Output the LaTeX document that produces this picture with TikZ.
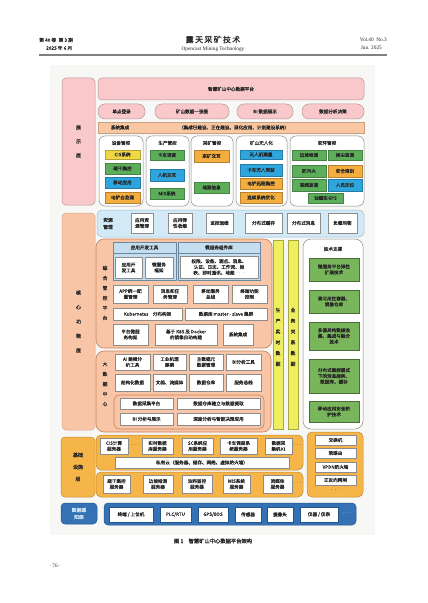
\documentclass[tikz,border=0pt]{standalone}
\usepackage{fontspec}
\setmainfont{Liberation Serif}
\newfontfamily\cjk[FakeBold=0.3]{Noto Sans CJK SC}
\newfontfamily\cjkb[FakeBold=1.2]{Noto Sans CJK SC}
\definecolor{txt}{HTML}{262626}
\definecolor{bgc}{HTML}{F7F7F5}
\definecolor{pinkf}{HTML}{F8C8CA}
\definecolor{pinkd}{HTML}{B89696}
\definecolor{peachbar}{HTML}{F9C8A2}
\definecolor{peachf}{HTML}{F8C5A6}
\definecolor{peachd}{HTML}{C98058}
\definecolor{ltblue}{HTML}{D3E9F6}
\definecolor{ltblued}{HTML}{9BBFD6}
\definecolor{panelb}{HTML}{C4DEF0}
\definecolor{paneld}{HTML}{6A88A0}
\definecolor{gI}{HTML}{5DAE5B}
\definecolor{bI}{HTML}{2FA5DE}
\definecolor{oI}{HTML}{F4AE40}
\definecolor{yI}{HTML}{F0D845}
\definecolor{yel}{HTML}{EEEE60}
\definecolor{tg}{HTML}{79B65B}
\definecolor{infra}{HTML}{F5B548}
\definecolor{infrad}{HTML}{C08A30}
\definecolor{sense}{HTML}{3572B5}
\definecolor{sensed}{HTML}{24548A}
\definecolor{grayd}{HTML}{8C8C8C}
\newcommand\mybox[7]{\node[#1, minimum width={((#5)-(#3))*1bp}, minimum height={((#6)-(#4))*1bp}] (#2) at ({((#3)+(#5))/2},{((#4)+(#6))/2}) {#7};}
\begin{document}
\begin{tikzpicture}[x=1bp,y=-1bp,
  base/.style={inner sep=0.2bp, outer sep=0pt, align=center, text=txt, font=\cjk\fontsize{4.6}{5.8}\selectfont},
  lay/.style={base, rounded corners=4bp, line width=0.5bp},
  pinkb/.style={base, fill=pinkf, draw=pinkd, rounded corners=4bp, line width=0.5bp},
  pill/.style={base, fill=pinkf, draw=pinkd, rounded corners=7bp, line width=0.5bp},
  grp/.style={base, fill=white, draw=grayd, rounded corners=6bp, line width=0.5bp},
  itm/.style={base, fill=#1, draw=#1!75!black, line width=0.3bp},
  wb/.style={base, fill=white, draw=grayd, line width=0.4bp},
  peachg/.style={base, fill=peachf, draw=peachd, rounded corners=8bp, line width=0.6bp},
  panel/.style={base, fill=panelb, draw=paneld, line width=0.5bp},
  ybar/.style={base, fill=yel, draw=yel!70!black, line width=0.3bp},
  tgb/.style={base, fill=tg, draw=tg!60!black, line width=0.4bp},
  infg/.style={base, fill=infra, draw=infrad, rounded corners=5bp, line width=0.5bp},
  senb/.style={base, fill=sense, draw=sensed, rounded corners=4bp, line width=0.5bp},
  ttl/.style={base, inner sep=0pt},
  vtxt/.style={base, inner sep=0pt, font=\cjk\fontsize{4.8}{10}\selectfont},
  dotsn/.style={base, inner sep=0pt, font=\fontsize{6}{6}\selectfont}
]
\useasboundingbox (0,0) rectangle (427,603);
\fill[white] (0,0) rectangle (427,603);
\fill[bgc] (50,65) rectangle (375,535);

% header
\node[base, anchor=west, font=\cjk\fontsize{4.8}{5.5}\selectfont] (h1) at (39,40) {第 40 卷\enspace 第 3 期};
\node[base, anchor=west, font=\cjk\fontsize{4.8}{5.5}\selectfont] (h2) at (46,48) {2025 年 6 月};
\node[base, font=\cjkb\fontsize{8}{9}\selectfont] (h3) at (213,39.5) {露\,天\,采\,矿\,技\,术};
\node[base, font=\rmfamily\fontsize{5.3}{6}\selectfont] (h4) at (213,49) {Opencast Mining Technology};
\node[base, anchor=east, font=\rmfamily\fontsize{5.3}{6}\selectfont] (h5) at (387,40) {Vol.40\enspace No.3};
\node[base, anchor=east, font=\rmfamily\fontsize{5.3}{6}\selectfont] (h6) at (382,48) {Jun. 2025};
\coordinate (r1) at (39,55.5);
\coordinate (r2) at (387,55.5);
\draw[line width=2bp, gray] (r1) -- (r2);

% ===== 展示层
\mybox{lay, fill=pinkf, draw=pinkd, font=\cjk\fontsize{5}{14}\selectfont}{L1}{62}{78}{95}{205}{展\\示\\层}
\mybox{pinkb}{top}{98}{78}{364}{100}{智慧矿山中心数据平台}
\mybox{pill}{p1}{98}{104}{145}{119}{单点登录}
\mybox{pill}{p2}{155}{104}{229}{119}{矿山数据一张图}
\mybox{pill}{p3}{237}{104}{293}{119}{BI 数据展示}
\mybox{pill}{p4}{302}{104}{364}{119}{数据分析决策}
\mybox{base, fill=peachbar, draw=peachbar!80!black, line width=0.4bp}{sys}{98}{122}{364}{133}{}
\node[ttl] (syst) at (120,127.5) {系统集成};
\node[ttl] (sysd) at (234,127.5) {（集成已建设、正在建设、深化应用、计划建设系统）};

\mybox{grp}{g1}{99}{136}{143}{206}{}
\mybox{grp}{g2}{146}{136}{189}{206}{}
\mybox{grp}{g3}{191}{136}{233}{206}{}
\mybox{grp}{g4}{236}{136}{287}{206}{}
\mybox{grp}{g5}{290}{136}{364}{206}{}
\node[ttl] (g1t) at (121,143) {设备管控};
\node[ttl] (g2t) at (167.5,143) {生产管控};
\node[ttl] (g3t) at (212,143) {采矿管控};
\node[ttl] (g4t) at (261.5,143) {矿山无人化};
\node[ttl] (g5t) at (327,143) {安环管控};

\mybox{itm=yI}{a1}{105}{150}{140}{159}{CIS系统}
\mybox{itm=gI}{a2}{105}{163}{140}{174}{疏干集控}
\mybox{itm=bI}{a3}{105}{177}{140}{188}{移动应用}
\mybox{itm=oI}{a4}{105}{192}{140}{203}{电铲自监测}

\mybox{itm=gI}{b1}{150}{150}{184}{160}{卡车调度}
\mybox{itm=bI}{b2}{150}{169}{184}{181}{人机交互}
\mybox{itm=gI}{b3}{150}{188}{184}{199}{MIS系统}

\mybox{itm=oI}{c1}{194}{150}{229}{162}{采矿交互}
\mybox{itm=gI}{c2}{194}{182}{229}{193}{地测信息}

\mybox{itm=bI}{d1}{240}{150}{282}{159}{无人机测量}
\mybox{itm=bI}{d2}{240}{164}{282}{176}{卡车无人驾驶}
\mybox{itm=oI}{d3}{240}{178}{282}{189}{电铲远程集控}
\mybox{itm=oI}{d4}{240}{192}{282}{203}{连续系统优化}

\mybox{itm=gI}{e1}{292}{150}{326}{160}{边坡检测}
\mybox{itm=gI}{e2}{328}{150}{362}{160}{扬尘监测}
\mybox{itm=gI}{e3}{292}{165}{326}{177}{防灭火}
\mybox{itm=oI}{e4}{328}{165}{362}{177}{安全培训}
\mybox{itm=gI}{e5}{292}{179}{326}{191}{视频监测}
\mybox{itm=bI}{e6}{328}{179}{362}{191}{人员定位}
\mybox{itm=gI}{e7}{308}{193}{343}{203}{油罐车GPS}

% ===== 核心功能层
\mybox{lay, fill=peachf, draw=peachd!70, font=\cjk\fontsize{5}{14.5}\selectfont}{L2}{62}{213}{95}{430}{核\\心\\功\\能\\层}
\mybox{base, fill=ltblue, draw=ltblued, rounded corners=5bp, line width=0.5bp}{res}{97}{210}{364}{237}{}
\node[ttl, font=\cjk\fontsize{4.8}{7}\selectfont] (rest) at (108,223.5) {资源\\管理};
\mybox{wb}{r1b}{131}{213}{153}{233}{应用资\\源管理}
\mybox{wb}{r2b}{168}{213}{192}{233}{应用弹\\性收缩}
\mybox{wb}{r3b}{206}{213}{233}{233}{监控运维}
\mybox{wb}{r4b}{245}{213}{282}{233}{分布式缓存}
\mybox{wb}{r5b}{287}{213}{320}{233}{分布式消息}
\mybox{wb}{r6b}{328}{213}{357}{233}{负载均衡}

\mybox{peachg}{zh}{96}{239}{272}{348}{}
\node[vtxt] (zht) at (105,293) {综\\合\\管\\控\\平\\台};
\mybox{panel}{pa}{113}{242}{176}{280}{}
\mybox{panel}{pb}{178}{242}{260}{280}{}
\coordinate (pal) at (113,253); \coordinate (par) at (176,253);
\coordinate (pbl) at (178,253); \coordinate (pbr) at (260,253);
\draw[paneld, line width=0.4bp] (pal) -- (par) (pbl) -- (pbr);
\node[ttl] (pat) at (144.5,247.5) {应用开发工具};
\node[ttl] (pbt) at (219,247.5) {微服务组件库};
\mybox{wb}{pa1}{115}{257}{142}{278}{应用开\\发工具}
\mybox{wb}{pa2}{145}{257}{173}{278}{微服务\\框架}
\mybox{wb}{pb1}{180}{256}{258}{278}{权限、设备、测点、消息、\\认证、日志、工作流、报\\表、即时通讯、地图 $\cdots$}
\mybox{wb}{z1}{113}{285}{148}{303}{APP统一配\\置管理}
\mybox{wb}{z2}{153}{285}{187}{303}{消息和任\\务管理}
\mybox{wb}{z3}{193}{285}{228}{303}{移动服务\\总线}
\mybox{wb}{z4}{232}{285}{267}{303}{终端功能\\控制}
\mybox{wb}{z5}{113}{308}{182}{320}{Kubernetes\quad 分布构架}
\mybox{wb}{z6}{185}{308}{267}{320}{数据库 master - slave 集群}
\mybox{wb}{z7}{113}{324}{148}{345}{平台微服\\务构架}
\mybox{wb}{z8}{155}{324}{217}{345}{基于 K8S 及 Docker\\的镜像自动构建}
\mybox{wb}{z9}{223}{324}{253}{345}{系统集成}

\mybox{ybar}{y1}{273}{240}{283}{429}{}
\mybox{ybar}{y2}{288}{240}{298}{429}{}
\node[vtxt, font=\cjk\fontsize{4.8}{10.8}\selectfont] (y1t) at (278,337) {生\\产\\实\\时\\数\\据};
\node[vtxt, font=\cjk\fontsize{4.8}{10.8}\selectfont] (y2t) at (293,337) {业\\务\\关\\系\\数\\据};

\mybox{grp, rounded corners=8bp}{tech}{303}{239}{363}{429}{}
\node[ttl] (techt) at (333,249) {技术支撑};
\mybox{tgb}{t1}{309}{258}{359}{281}{微服务平台弹性\\扩展技术}
\mybox{tgb}{t2}{309}{290}{359}{313}{高可用性容器、\\镜像仓库}
\mybox{tgb}{t3}{309}{322}{359}{350}{多源异构数据收\\集、集成与融合\\技术}
\mybox{tgb}{t4}{309}{359}{359}{393}{分布式集群模式\\下的消息服务、\\数据库、缓存}
\mybox{tgb}{t5}{309}{401}{359}{422}{移动应用安全防\\护技术}

\mybox{peachg}{bd}{96}{351}{271}{432}{}
\node[vtxt] (bdt) at (105,384) {大\\数\\据\\中\\心};
\mybox{wb}{k1}{115}{354}{150}{370}{AI 建模分\\析工具}
\mybox{wb}{k2}{153}{354}{186}{370}{工业机理\\建模}
\mybox{wb}{k3}{189}{354}{223}{370}{主数据元\\数据管理}
\mybox{wb}{k4}{226}{354}{261}{370}{BI分析工具}
\mybox{wb}{k5}{115}{374}{150}{391}{结构化数据}
\mybox{wb}{k6}{153}{374}{186}{391}{文档、流媒体}
\mybox{wb}{k7}{189}{374}{223}{391}{数据仓库}
\mybox{wb}{k8}{226}{374}{261}{391}{服务总线}
\mybox{peachg, rounded corners=5bp}{bdi}{114}{395}{264}{429}{}
\mybox{wb}{m1}{120}{398}{173}{409}{数据采集平台}
\mybox{wb}{m2}{177}{398}{260}{409}{数据仓库建立与数据提取}
\mybox{wb}{m3}{120}{413}{173}{425}{BI 分析与展示}
\mybox{wb}{m4}{177}{413}{260}{425}{深度分析与智能决策应用}

% ===== 基础设施层
\mybox{lay, fill=infra, draw=infrad, font=\cjk\fontsize{5}{12}\selectfont}{L3}{61}{437}{95}{497}{基础\\设施\\层}
\mybox{infg}{gu}{96}{435}{303}{470}{}
\mybox{wb}{s1}{100}{438}{128}{454}{CIS计算\\服务器}
\node[dotsn] (s1d) at (135,445) {$\cdots$};
\mybox{wb}{s2}{142}{438}{173}{454}{实时数据\\库服务器}
\mybox{wb}{s3}{182}{438}{213}{454}{SC系统应\\用服务器}
\mybox{wb}{s4}{220}{438}{257}{454}{卡车调度系\\统服务器}
\mybox{wb}{s5}{265}{438}{292}{454}{数据采\\集机01}
\node[dotsn] (s5d) at (297.5,445) {$\cdots$};
\mybox{wb}{s6}{115}{457}{289}{468}{私有云（服务器、储存、网络、虚拟防火墙）}
\mybox{infg}{gd}{96}{472}{303}{497}{}
\mybox{wb}{u1}{103}{475}{130}{493}{疏干集控\\服务器}
\mybox{wb}{u2}{143}{475}{173}{493}{边坡检测\\服务器}
\mybox{wb}{u3}{182}{475}{212}{493}{油料监控\\服务器}
\mybox{wb}{u4}{223}{475}{250}{493}{MIS系统\\服务器}
\mybox{wb}{u5}{263}{475}{292}{493}{流媒体\\服务器}
\node[dotsn] (u5d) at (297.5,483) {$\cdots$};
\mybox{infg}{gn}{307}{432}{363}{497}{}
\mybox{wb}{n1}{315}{435}{356}{445}{交换机}
\mybox{wb}{n2}{315}{448}{356}{458}{软路由}
\mybox{wb}{n3}{315}{462}{356}{472}{VPDN防火墙}
\mybox{wb}{n4}{315}{475}{356}{485}{正反向网闸}
\node[dotsn] (n5d) at (335.5,490) {$\cdots$};

% ===== 数据感知层
\mybox{senb, text=ltblue, font=\cjk\fontsize{4.8}{7}\selectfont}{L4}{61}{503}{97}{524}{数据感\\知层}
\mybox{senb}{sb}{104}{503}{356}{525}{}
\mybox{wb, draw=sensed}{v1}{109}{507}{153}{522}{终端 / 上位机}
\mybox{wb, draw=sensed}{v2}{160}{507}{191}{522}{PLC/RTU}
\mybox{wb, draw=sensed}{v3}{198}{507}{228}{522}{GPS/BDS}
\mybox{wb, draw=sensed}{v4}{235}{507}{261}{522}{传感器}
\mybox{wb, draw=sensed}{v5}{267}{507}{293}{522}{摄像头}
\mybox{wb, draw=sensed}{v6}{300}{507}{338}{522}{仪器 / 仪表}
\node[dotsn, text=white] (v7) at (347.5,513) {$\cdots$};

% caption and page number
\node[base, font=\cjkb\fontsize{5.3}{6}\selectfont] (cap) at (213,541) {图 1\quad 智慧矿山中心数据平台架构};
\node[base, font=\rmfamily\fontsize{5.3}{6}\selectfont] (pg) at (55,566) {· 76 ·};
\end{tikzpicture}
\end{document}
